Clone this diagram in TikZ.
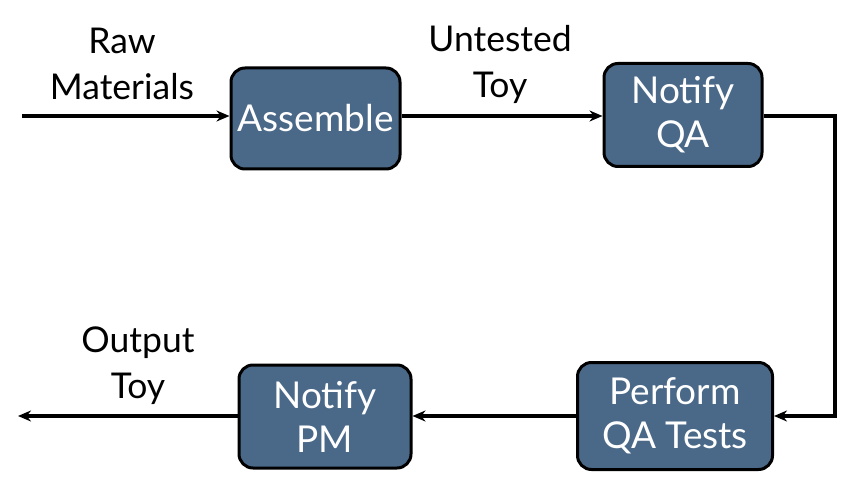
\documentclass[tikz,border=0pt]{standalone}
\usepackage{fontspec}
\setmainfont{Lato}
\usetikzlibrary{arrows.meta}
\definecolor{boxblue}{RGB}{74,104,136}
\tikzset{
  proc/.style={draw=black, line width=3pt, fill=boxblue, rounded corners=14pt,
    text=white, font=\fontsize{37}{44}\selectfont, align=center, inner sep=0pt},
  lbl/.style={text=black, font=\fontsize{35.5}{46}\selectfont, align=center},
  conn/.style={line width=3.2pt, -{Stealth[length=13pt,width=11pt]}}
}
\begin{document}
\begin{tikzpicture}[x=1pt,y=-1pt]
\useasboundingbox (0,0) rectangle (866,494);
\node[proc, minimum width=169pt, minimum height=101pt] (asm) at (315.5,118.5) {Assemble};
\node[proc, minimum width=158pt, minimum height=103pt] (nqa) at (683,115) {Notify\\QA};
\node[proc, minimum width=195pt, minimum height=107pt] (pqa) at (675,416) {Perform\\QA Tests};
\node[proc, minimum width=172pt, minimum height=103pt] (npm) at (325,416.5) {Notify\\PM};
\coordinate (in) at (22,116);
\coordinate (out) at (18,416);
\coordinate (c1) at (835,116);
\coordinate (c2) at (835,416);
\node[lbl] (lraw) at (122,64) {Raw\\Materials};
\node[lbl] (lunt) at (500,64) {Untested\\Toy};
\node[lbl] (lout) at (138,366) {Output\\Toy};
\draw[conn] (in) -- (in -| asm.west);
\draw[conn] (asm.east |- in) -- (nqa.west |- in);
\draw[conn] (nqa.east |- c1) -- (c1) -- (c2) -- (pqa.east |- c2);
\draw[conn] (pqa.west |- c2) -- (npm.east |- c2);
\draw[conn] (npm.west |- out) -- (out);
\end{tikzpicture}
\end{document}
